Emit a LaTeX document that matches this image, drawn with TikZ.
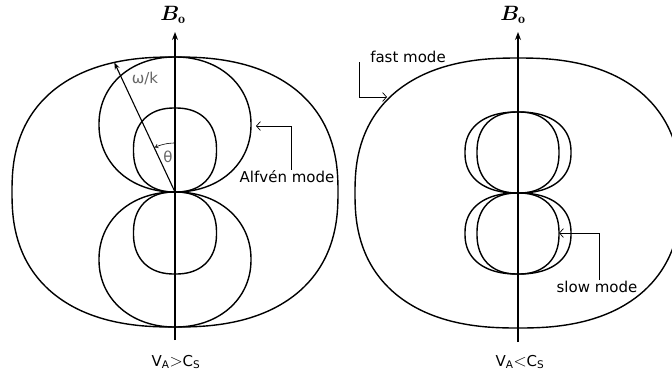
\documentclass[tikz,border=0pt]{standalone}
\usepackage{fontspec}
\usepackage{bm}
\usetikzlibrary{arrows.meta}
\newfontfamily\lblfont{DejaVu Sans}

\begin{document}
\begin{tikzpicture}[
  x=1pt, y=-1pt,
  every node/.style={inner sep=1pt},
  declare function={
    sx(\t,\n)=sin(\t)/abs(sin(\t))*abs(sin(\t))^(2/\n);
    sy(\t,\n)=cos(\t)/abs(cos(\t))*abs(cos(\t))^(2/\n);
  },
  curve/.style={draw, line width=1.4pt},
  axis/.style={draw, line width=1.1pt, -{Stealth[length=8pt,width=6pt]}},
  callout/.style={draw, line width=0.7pt, -{Straight Barb[length=4pt,width=9pt]}},
  lbl/.style={font=\lblfont\fontsize{15}{17}\selectfont},
  glbl/.style={lbl, text=black!60},
  bfield/.style={font=\fontsize{20}{24}\selectfont}]

  \useasboundingbox (0,0) rectangle (672,376);

  % ---- origins and axis ends ----------------------------------------------
  \coordinate (O1) at (175,192);
  \coordinate (O2) at (518,193);
  \coordinate (top1) at (175,32);
  \coordinate (bot1) at (175,340);
  \coordinate (top2) at (518,32);
  \coordinate (bot2) at (518,342);

  % ---- left: V_A > C_S ----------------------------------------------------
  \begin{scope}[shift={(O1)}]
    % fast
    \draw[curve] plot[domain=1:359, samples=180, smooth cycle]
      ({163*sx(\x,2.4)}, {-135*sy(\x,2.4)});
    % Alfven
    \draw[curve] plot[domain=1:359, samples=180, smooth cycle]
      ({76*sx(\x,2.1)}, {-67.5-67.5*sy(\x,2.1)});
    \draw[curve] plot[domain=1:359, samples=180, smooth cycle]
      ({76*sx(\x,2.1)}, {67.5+67.5*sy(\x,2.1)});
    % slow
    \draw[curve] plot[domain=1:359, samples=180, smooth cycle]
      ({41.5*sx(\x,2.3)}, {-42-42*sy(\x,2.3)});
    \draw[curve] plot[domain=1:359, samples=180, smooth cycle]
      ({41.5*sx(\x,2.3)}, {41+41*sy(\x,2.3)});
    % angle theta
    \draw[line width=0.6pt, -{Straight Barb[length=2.5pt,width=4pt]}]
      plot[domain=0:24, samples=13, smooth] ({-49*sin(\x)},{-49*cos(\x)});
  \end{scope}

  % ---- right: V_A < C_S ---------------------------------------------------
  \begin{scope}[shift={(O2)}]
    % fast
    \draw[curve] plot[domain=1:359, samples=180, smooth cycle]
      ({163*sx(\x,2.4)}, {-135*sy(\x,2.4)});
    % Alfven
    \draw[curve] plot[domain=1:359, samples=180, smooth cycle]
      ({53*sx(\x,2.3)}, {-40.5-40.5*sy(\x,2.3)});
    \draw[curve] plot[domain=1:359, samples=180, smooth cycle]
      ({53*sx(\x,2.3)}, {40.5+40.5*sy(\x,2.3)});
    % slow
    \draw[curve] plot[domain=1:359, samples=180, smooth cycle]
      ({41*sx(\x,2.3)}, {-40.5-40.5*sy(\x,2.3)});
    \draw[curve] plot[domain=1:359, samples=180, smooth cycle]
      ({41*sx(\x,2.3)}, {40.5+40.5*sy(\x,2.3)});
  \end{scope}

  % ---- labels -------------------------------------------------------------
  \node[bfield] (B1) at (173,15) {$\bm{B}_{\mathbf{o}}$};
  \node[bfield] (B2) at (513,15) {$\bm{B}_{\mathbf{o}}$};
  \node[glbl] (wk) at (145,78) {ω/k};
  \node[glbl] (th) at (168,157) {θ};
  \node[lbl] (alf) at (287,177) {Alfvén mode};
  \node[lbl] (fast) at (408,57) {fast mode};
  \node[lbl] (slow) at (597,287) {slow mode};
  \node[lbl] (c1) at (176,362)
    {V\textsubscript{A}{\fontsize{19}{19}\selectfont$>$}C\textsubscript{S}};
  \node[lbl] (c2) at (520,362)
    {V\textsubscript{A}{\fontsize{19}{19}\selectfont$<$}C\textsubscript{S}};

  % ---- axes ---------------------------------------------------------------
  \draw[axis] (bot1) -- (top1);
  \draw[axis] (bot2) -- (top2);

  % ---- phase speed --------------------------------------------------------
  \path (O1) ++({163*sx(342.2,2.4)},{-135*sy(342.2,2.4)}) coordinate (wkpt);
  \draw[line width=1.1pt, -{Stealth[length=7pt,width=5pt]}] (O1) -- (wkpt);

  % ---- callouts -----------------------------------------------------------
  \coordinate (alfpt) at (256,126);
  \coordinate (fastpt) at (387,97);
  \coordinate (slowpt) at (559,233);
  \draw[callout] ([xshift=4pt]alf.north) |- (alfpt);
  \draw[callout] ([xshift=-10pt,yshift=-5pt]fast.west) |- (fastpt);
  \draw[callout] ([xshift=2pt]slow.north) |- (slowpt);
\end{tikzpicture}
\end{document}
